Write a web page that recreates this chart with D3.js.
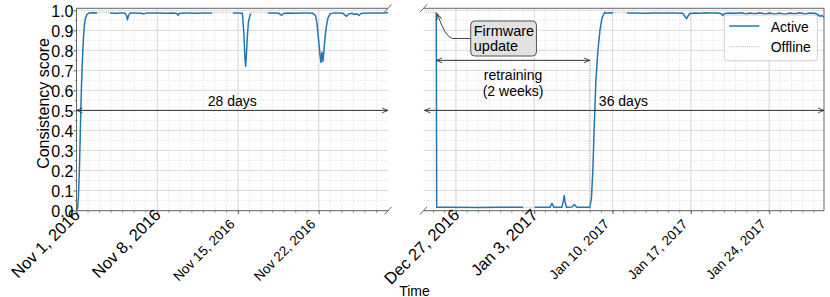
<!DOCTYPE html>
<html>
<head>
<meta charset="utf-8">
<script src="https://cdn.jsdelivr.net/npm/d3@7"></script>
<style>
body{margin:0;background:#fff}
text{font-family:"Liberation Sans",Arial,sans-serif;fill:#000}
</style>
</head>
<body>
<script>
// --- data (days are fractional days from the panel's reference date) ---
const leftRef = "2016-11-01";
const rightRef = "2016-12-27";
const leftDomainDays = [0, 27];
const rightDomainDays = [-2.9, 32.9];
const leftTicks = ["2016-11-01", "2016-11-08", "2016-11-15", "2016-11-22"];
const rightTicks = ["2016-12-27", "2017-01-03", "2017-01-10", "2017-01-17", "2017-01-24"];
const yTicks = [0, 0.1, 0.2, 0.3, 0.4, 0.5, 0.6, 0.7, 0.8, 0.9, 1.0];

const leftDays = [0, 0.09, 0.17, 0.26, 0.35, 0.43, 0.52, 0.61, 0.69, 0.78, 0.91, 1.08, 1.43, 1.78,
  1.85,
  2.90, 3.42, 3.86, 4.20, 4.33, 4.42, 4.51, 4.64, 5.16, 5.59, 5.85, 6.11, 6.63, 7.24, 7.84, 8.36,
  8.71, 8.80, 8.88, 9.32, 9.84, 10.36, 10.96, 11.48, 11.74,
  11.80,
  13.56, 14.00, 14.38, 14.51, 14.60, 14.66, 14.73, 14.82, 14.90, 15.03, 15.12,
  15.20,
  16.59, 17.11, 17.55, 17.78, 17.98, 18.50, 19.02, 19.54, 20.06, 20.49, 20.71, 20.84, 20.97,
  21.10, 21.19, 21.27, 21.36, 21.45, 21.53, 21.66, 21.79, 21.97, 22.23, 22.66, 23.10, 23.27,
  23.41, 23.57, 23.87, 24.13, 24.31, 24.48, 24.65, 25.08, 25.60, 26.12, 26.56, 27.00];
const leftActive = [0, 0.01, 0.07, 0.22, 0.44, 0.62, 0.76, 0.87, 0.93, 0.962, 0.98, 0.986, 0.988, 0.987,
  null,
  0.987, 0.985, 0.987, 0.986, 0.975, 0.952, 0.975, 0.986, 0.987, 0.985, 0.982, 0.987, 0.986, 0.987, 0.985, 0.987,
  0.984, 0.975, 0.984, 0.986, 0.987, 0.985, 0.987, 0.986, 0.987,
  null,
  0.987, 0.986, 0.985, 0.88, 0.76, 0.72, 0.78, 0.88, 0.94, 0.975, 0.984,
  null,
  0.986, 0.987, 0.985, 0.975, 0.985, 0.987, 0.985, 0.987, 0.986, 0.985, 0.975, 0.94, 0.86,
  0.78, 0.74, 0.79, 0.745, 0.80, 0.86, 0.92, 0.96, 0.982, 0.986, 0.987, 0.985, 0.976,
  0.97, 0.982, 0.985, 0.979, 0.983, 0.974, 0.984, 0.986, 0.987, 0.986, 0.987, 0.988];
const leftOffDays = [1.78, 2.90, null, 11.74, 13.56, null, 15.12, 16.59];
const leftOffline = [0.99, 0.99, null, 0.99, 0.99, null, 0.99, 0.99];

const rightDays = [-1.76, -1.72, -0.54, 2.14, 3.93, 5.99,
  6.05,
  7.06, 8.40, 8.58, 8.76, 9.47, 9.61, 9.68, 9.77, 9.88, 10.37, 10.59, 10.81, 11.97, 12.11, 12.24,
  12.38, 12.51, 12.69, 12.87, 13.05, 13.23, 13.32, 13.49, 13.76, 14.03,
  14.10,
  15.28, 16.00, 16.89, 17.78, 18.68, 19.57, 20.29, 20.46, 20.62, 20.73, 20.91, 21.36, 21.80, 22.34,
  22.88, 23.41, 23.73, 23.86, 24.00, 24.49, 25.02, 25.56, 25.92, 26.27, 26.72, 27.17, 27.61, 28.06,
  28.51, 28.95, 29.40, 29.85, 30.29, 30.74, 31.19, 31.63, 32.08, 32.35, 32.53, 32.71, 32.89];
const rightActive = [0.99, 0.016, 0.016, 0.015, 0.016, 0.016,
  null,
  0.016, 0.016, 0.036, 0.016, 0.016, 0.05, 0.075, 0.04, 0.016, 0.017, 0.03, 0.016, 0.016, 0.06, 0.20,
  0.45, 0.65, 0.80, 0.90, 0.96, 0.983, 0.99, 0.985, 0.988, 0.987,
  null,
  0.986, 0.987, 0.985, 0.987, 0.986, 0.987, 0.985, 0.97, 0.958, 0.97, 0.984, 0.987, 0.985, 0.988,
  0.986, 0.987, 0.983, 0.974, 0.984, 0.987, 0.985, 0.988, 0.982, 0.987, 0.983, 0.988, 0.982, 0.987,
  0.981, 0.986, 0.980, 0.987, 0.983, 0.988, 0.982, 0.987, 0.985, 0.978, 0.970, 0.974, 0.966];
const rightOffDays = [-2.9, -1.76, null, 5.99, 7.06, null, 14.03, 15.28];
const rightOffline = [0.99, 0.99, null, 0.016, 0.016, null, 0.99, 0.99];

const firmwareDay = -1.76;
const retrainEndDay = 11.97;

// --- layout ---
const W = 830, H = 297;
const yTop = 8.3, yBot = 210.7;
const blue = "#1f77b4";
const spine = "#666";

const parse = d3.timeParse("%Y-%m-%d");
const toDate = (ref, d) => new Date(parse(ref).getTime() + d * 864e5);
const fmt = d3.timeFormat("%b %-d, %Y");

const svg = d3.select("body").append("svg").attr("width", W).attr("height", H);

const defs = svg.append("defs");
defs.append("marker").attr("id", "arr")
  .attr("viewBox", "0 0 10 10").attr("refX", 9.5).attr("refY", 5)
  .attr("markerWidth", 7).attr("markerHeight", 7).attr("markerUnits", "userSpaceOnUse")
  .attr("orient", "auto-start-reverse")
  .append("path").attr("d", "M1,1.5 L9.5,5 L1,8.5").attr("fill", "none").attr("stroke", "#333").attr("stroke-width", 1.2);

const y = d3.scaleLinear().domain([0, 1.01]).range([210.5, yTop]);

const panels = [
  {id: "L", ref: leftRef, dom: leftDomainDays, range: [76.5, 388], ticks: leftTicks,
   days: leftDays, vals: leftActive, offDays: leftOffDays, offVals: leftOffline, left: true},
  {id: "R", ref: rightRef, dom: rightDomainDays, range: [423.5, 824], ticks: rightTicks,
   days: rightDays, vals: rightActive, offDays: rightOffDays, offVals: rightOffline, left: false}
];

const yMinor = d3.range(0.05, 1.01, 0.1);

panels.forEach(p => {
  const x = d3.scaleTime().domain(p.dom.map(d => toDate(p.ref, d))).range(p.range);
  p.x = x;
  const [x0, x1] = p.range;
  const g = svg.append("g");

  // grid
  const dayLines = d3.timeDay.range(x.domain()[0], x.domain()[1]);
  g.append("g").selectAll("line").data(dayLines).join("line")
    .attr("x1", d => x(d)).attr("x2", d => x(d)).attr("y1", yTop).attr("y2", yBot)
    .attr("stroke", "#e3e3e3").attr("stroke-width", 0.8).attr("stroke-dasharray", "2,1.5");
  g.append("g").selectAll("line").data(yMinor).join("line")
    .attr("x1", x0).attr("x2", x1).attr("y1", d => y(d)).attr("y2", d => y(d))
    .attr("stroke", "#e3e3e3").attr("stroke-width", 0.8).attr("stroke-dasharray", "2,1.5");
  g.append("g").selectAll("line").data(p.ticks.map(parse)).join("line")
    .attr("x1", d => x(d)).attr("x2", d => x(d)).attr("y1", yTop).attr("y2", yBot)
    .attr("stroke", "#d6d6d6").attr("stroke-width", 0.9);
  g.append("g").selectAll("line").data(yTicks).join("line")
    .attr("x1", x0).attr("x2", x1).attr("y1", d => y(d)).attr("y2", d => y(d))
    .attr("stroke", "#d6d6d6").attr("stroke-width", 0.9);

  // clip
  defs.append("clipPath").attr("id", "clip" + p.id).append("rect")
    .attr("x", x0).attr("y", yTop - 2).attr("width", x1 - x0).attr("height", yBot - yTop + 2);

  const line = d3.line()
    .x(d => x(toDate(p.ref, d[0]))).y(d => y(d[1]));

  const lg = g.append("g").attr("clip-path", `url(#clip${p.id})`);
  lg.append("path").datum(p.offDays.map((d, i) => [d, p.offVals[i]]))
    .attr("d", line.defined(d => d[0] != null && d[1] != null))
    .attr("fill", "none").attr("stroke", "#aaa").attr("stroke-width", 1).attr("stroke-dasharray", "1,1.2");
  lg.append("path").datum(p.days.map((d, i) => [d, p.vals[i]]))
    .attr("d", line.defined(d => d[1] != null))
    .attr("fill", "none").attr("stroke", blue).attr("stroke-width", 1.5).attr("stroke-linejoin", "round");

  // spines
  g.append("line").attr("x1", x0).attr("x2", x1).attr("y1", yTop).attr("y2", yTop).attr("stroke", spine);
  g.append("line").attr("x1", x0).attr("x2", x1).attr("y1", yBot).attr("y2", yBot).attr("stroke", spine);
  const sx = p.left ? x0 : x1;
  g.append("line").attr("x1", sx).attr("x2", sx).attr("y1", yTop).attr("y2", yBot).attr("stroke", spine);
  // break marks
  const bx = p.left ? x1 : x0;
  [yTop, yBot].forEach(by => {
    g.append("line").attr("x1", bx - 3.5).attr("y1", by + 3.8).attr("x2", bx + 3.5).attr("y2", by - 3.8)
      .attr("stroke", spine).attr("stroke-width", 1);
  });

  // minor x ticks
  g.append("g").selectAll("line").data(dayLines).join("line")
    .attr("x1", d => x(d)).attr("x2", d => x(d)).attr("y1", yBot).attr("y2", yBot + 2)
    .attr("stroke", spine).attr("stroke-width", 0.7);

  // x axis
  const xa = g.append("g").attr("transform", `translate(0,${yBot})`)
    .call(d3.axisBottom(x).tickValues(p.ticks.map(parse)).tickFormat(fmt).tickSize(3.5));
  xa.select(".domain").remove();
  xa.selectAll(".tick line").attr("stroke", spine);
  xa.selectAll(".tick text")
    .attr("x", 0).attr("y", 0).attr("dy", 0)
    .attr("text-anchor", "end")
    .style("font-family", '"Liberation Sans",Arial,sans-serif')
    .style("font-size", (d, i) => i < 2 ? "16.5px" : "13.5px")
    .attr("transform", (d, i) => i < 2 ? "translate(4,5.3) rotate(-45)" : "translate(-3,14.3) rotate(-45)");
});

// y axis
const ya = svg.append("g").attr("transform", "translate(76.5,0)")
  .call(d3.axisLeft(y).tickValues(yTicks).tickFormat(d3.format(".1f")).tickSize(3).tickPadding(0));
ya.select(".domain").remove();
ya.selectAll(".tick line").attr("stroke", spine);
ya.selectAll(".tick text").style("font-size", "16px")
  .style("font-family", '"Liberation Sans",Arial,sans-serif').attr("dy", "0.36em");
svg.append("g").selectAll("line").data(yMinor).join("line")
  .attr("x1", 74.8).attr("x2", 76.5).attr("y1", d => y(d)).attr("y2", d => y(d))
  .attr("stroke", spine).attr("stroke-width", 0.7);

svg.append("text").attr("transform", "translate(43.5,103.5) rotate(-90)")
  .attr("text-anchor", "middle").attr("dominant-baseline", "central")
  .style("font-size", "16px").text("Consistency score");
svg.append("text").attr("x", 414.5).attr("y", 295.5).attr("text-anchor", "middle")
  .style("font-size", "14px").text("Time");

// annotations
const [L, R] = panels;
const arrowLine = (xa, xb, yv) => svg.append("line")
  .attr("x1", xa).attr("x2", xb).attr("y1", y(yv)).attr("y2", y(yv))
  .attr("stroke", "#333").attr("stroke-width", 1)
  .attr("marker-start", "url(#arr)").attr("marker-end", "url(#arr)");

arrowLine(L.range[0], L.range[1], 0.5);
svg.append("text").attr("x", (L.range[0] + L.range[1]) / 2).attr("y", y(0.5) - 4)
  .attr("text-anchor", "middle").style("font-size", "14px").text("28 days");

arrowLine(R.range[0] + 1, R.range[1], 0.5);

const fx = R.x(toDate(rightRef, firmwareDay));
const rx = R.x(toDate(rightRef, retrainEndDay));
svg.append("text").attr("x", rx + 9).attr("y", y(0.5) - 4)
  .style("font-size", "14px").text("36 days");

svg.append("line").attr("x1", rx).attr("x2", rx).attr("y1", y(0.75)).attr("y2", yBot)
  .attr("stroke", "#999").attr("stroke-width", 0.8).attr("stroke-dasharray", "1.5,1");
arrowLine(fx, rx, 0.75);
svg.append("text").attr("x", (fx + rx) / 2).attr("y", y(0.75) + 20)
  .attr("text-anchor", "middle").style("font-size", "14px").text("retraining");
svg.append("text").attr("x", (fx + rx) / 2).attr("y", y(0.75) + 35.5)
  .attr("text-anchor", "middle").style("font-size", "14px").text("(2 weeks)");

// firmware callout
const fy = y(0.99);
const bx = fx + 34.5, by = fy + 8.7;
svg.append("path")
  .attr("d", `M${bx},${by + 17.5} L${fx + 16},${by + 17.5} Q${fx + 9},${by + 16} ${fx + 1},${fy + 1.5}`)
  .attr("fill", "none").attr("stroke", "#333").attr("stroke-width", 0.9).attr("marker-end", "url(#arr)");
const fb = svg.append("g").attr("transform", `translate(${bx},${by})`);
fb.append("rect").attr("width", 65.7).attr("height", 35).attr("rx", 4)
  .attr("fill", "#e2e2e2").attr("stroke", "#555").attr("stroke-width", 1);
fb.append("text").attr("x", 3).attr("y", 14.5).style("font-size", "14.5px").text("Firmware");
fb.append("text").attr("x", 3).attr("y", 29.5).style("font-size", "14.5px").text("update");

// legend
const lgd = svg.append("g").attr("transform", "translate(724.3,15)");
lgd.append("rect").attr("width", 93).attr("height", 45.7).attr("rx", 3)
  .attr("fill", "#fff").attr("fill-opacity", 0.85).attr("stroke", "#d0d0d0");
lgd.append("line").attr("x1", 5).attr("x2", 35).attr("y1", 11).attr("y2", 11)
  .attr("stroke", blue).attr("stroke-width", 1.5);
lgd.append("line").attr("x1", 5).attr("x2", 35).attr("y1", 31.7).attr("y2", 31.7)
  .attr("stroke", "#aaa").attr("stroke-width", 1).attr("stroke-dasharray", "1,1.2");
lgd.append("text").attr("x", 46.4).attr("y", 16.5).style("font-size", "14px").text("Active");
lgd.append("text").attr("x", 46.4).attr("y", 37.3).style("font-size", "14px").text("Offline");
</script>
</body>
</html>
